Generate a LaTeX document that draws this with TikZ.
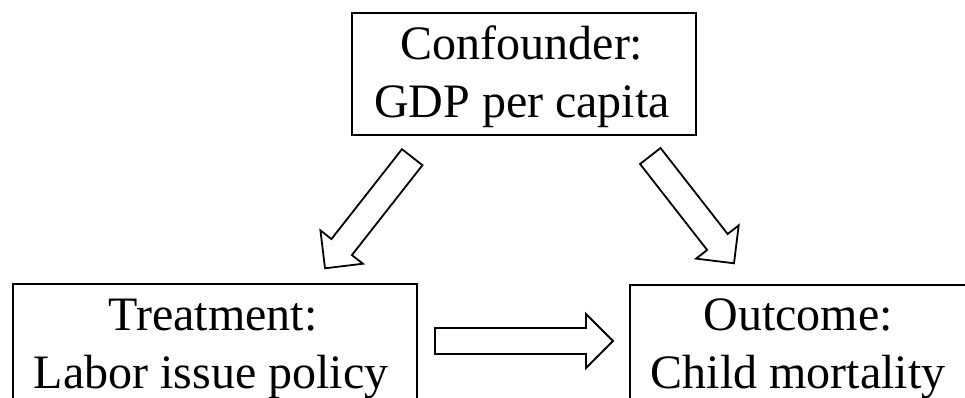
\documentclass[tikz,border=0pt]{standalone}
\usepackage{fontspec}
\setmainfont{Liberation Serif}
\usetikzlibrary{calc}
\tikzset{
  box/.style={draw=black, line width=2pt, fill=white, rectangle, inner sep=0pt, outer sep=0pt},
  lbl/.style={font=\fontsize{48}{58}\selectfont, inner sep=0pt, anchor=base},
  blockarr/.style={draw=black, line width=1.8pt, fill=white, line join=miter},
}
\newcommand{\blockarrow}[2]{%
  \coordinate (#1-hb) at ($(#2)!27pt!(#1)$);
  \draw[blockarr] ($(#1)!13pt!90:(#2)$) -- ($(#1-hb)!13pt!90:(#2)$)
    -- ($(#1-hb)!27pt!90:(#2)$) -- (#2) -- ($(#1-hb)!27pt!-90:(#2)$)
    -- ($(#1-hb)!13pt!-90:(#2)$) -- ($(#1)!13pt!-90:(#2)$) -- cycle;
}
\begin{document}
\begin{tikzpicture}[x=1pt,y=-1pt]
\useasboundingbox (0,0) rectangle (965,398);
% boxes
\node[box, minimum width=344pt, minimum height=122pt] (conf) at (524,74) {};
\node[box, minimum width=404pt, minimum height=122pt] (treat) at (215,345) {};
\node[box, minimum width=337pt, minimum height=122pt] (out) at (798.5,346) {};
% labels
\node[lbl] (conf1) at (522,60) {Confounder:};
\node[lbl] (conf2) at (522,118) {GDP per capita};
\node[lbl] (treat1) at (213,330) {Treatment:};
\node[lbl] (treat2) at (211,388) {Labor issue policy};
\node[lbl] (out1) at (798,330) {Outcome:};
\node[lbl] (out2) at (798,388) {Child mortality};
% block arrows
\coordinate (lt) at (412.2,157.2); \coordinate (lh) at (325,268.3);
\coordinate (rt) at (650.3,156);   \coordinate (rh) at (734,263.3);
\coordinate (ht) at (435,341);     \coordinate (hh) at (613,341);
\blockarrow{lt}{lh}
\blockarrow{rt}{rh}
\blockarrow{ht}{hh}
\end{tikzpicture}
\end{document}
